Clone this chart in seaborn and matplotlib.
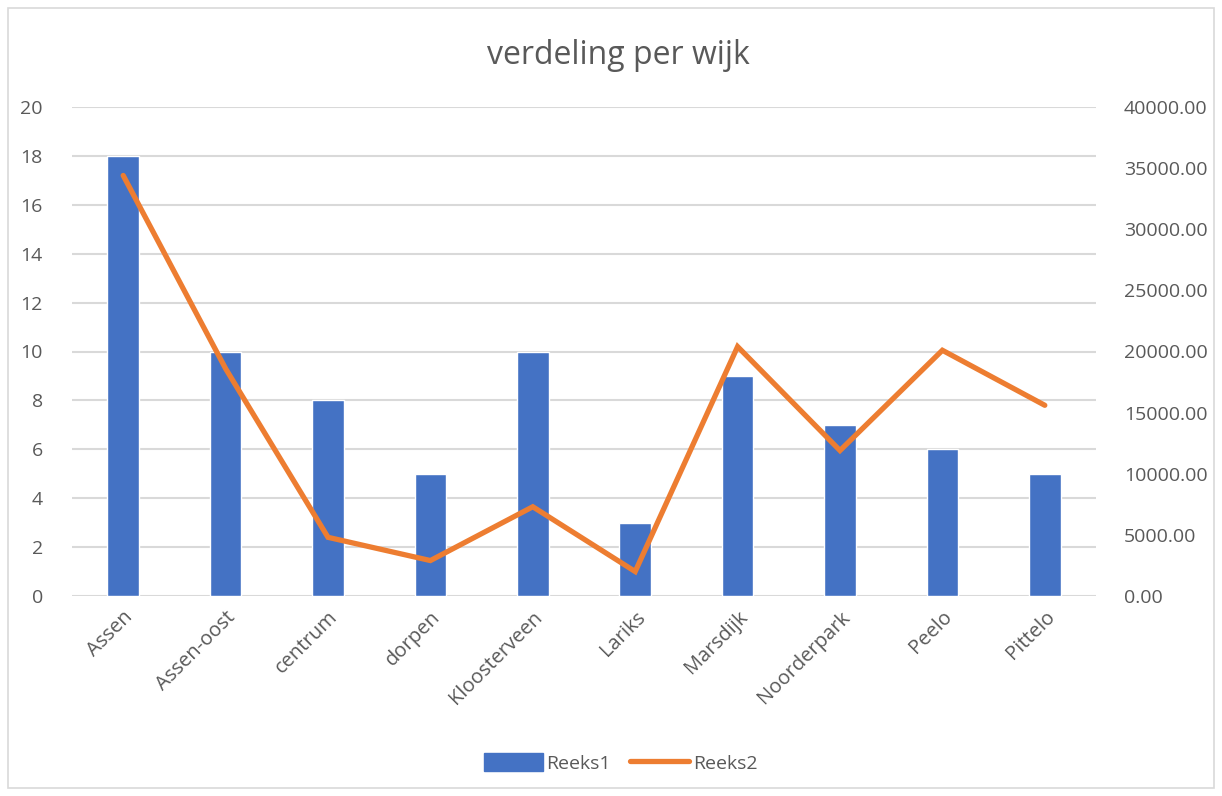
import matplotlib
matplotlib.use("Agg")
import matplotlib.pyplot as plt
import seaborn as sns
import numpy as np
import pandas as pd
from matplotlib.patches import Rectangle
from matplotlib.lines import Line2D
from matplotlib.patches import Patch

categories = ["Assen", "Assen-oost", "centrum", "dorpen", "Kloosterveen",
              "Lariks", "Marsdijk", "Noorderpark", "Peelo", "Pittelo"]
reeks1 = [18, 10, 8, 5, 10, 3, 9, 7, 6, 5]
reeks2 = [34400, 18600, 4800, 2900, 7300, 2000, 20400, 11900, 20100, 15600]
left_ticks = list(range(0, 21, 2))
right_ticks = list(range(0, 40001, 5000))

sns.set_theme(style="white")
plt.rcParams['font.family'] = ['Open Sans', 'DejaVu Sans']

BLUE = "#4472C4"
ORANGE = "#ED7D31"
GREY = "#595959"
GRID = "#D9D9D9"

df = pd.DataFrame({"wijk": categories, "Reeks1": reeks1, "Reeks2": reeks2})
df["pos"] = np.arange(len(categories))

fig = plt.figure(figsize=(12.22, 7.96), dpi=100)
fig.patch.set_facecolor("white")
fig.add_artist(Rectangle((8/1222, 8/796), 1 - 16/1222, 1 - 16/796,
                         transform=fig.transFigure, fill=False,
                         edgecolor="#D9D9D9", linewidth=1.2))

ax = fig.add_axes([72/1222, 1 - 596/796, (1096 - 72)/1222, (596 - 107)/796])
sns.barplot(data=df, x="wijk", y="Reeks1", color=BLUE, width=0.31,
            saturation=1, ax=ax, zorder=2)
ax.set_ylim(0, 20)
ax.set_xlim(-0.5, len(categories) - 0.5)
ax.set_yticks(left_ticks)
ax.yaxis.grid(True, color=GRID, linewidth=1.5, zorder=0)
ax.set_axisbelow(True)
for s in ax.spines.values():
    s.set_visible(False)
ax.set_xlabel("")
ax.set_ylabel("")
ax.tick_params(axis="y", colors=GREY, labelsize=14, length=0, pad=21)
ax.tick_params(axis="x", colors=GREY, labelsize=14.5, length=0, pad=8)
ax.set_xticks(range(len(categories)))
ax.set_xticklabels(categories, rotation=45, ha="right", rotation_mode="anchor")

ax2 = ax.twinx()
sns.lineplot(data=df, x="pos", y="Reeks2", color=ORANGE, linewidth=3.8,
             ax=ax2, zorder=3, solid_capstyle="round", solid_joinstyle="miter")
ax2.set_ylim(0, 40000)
ax2.set_yticks(right_ticks)
ax2.set_yticklabels([f"{v:.2f}" for v in right_ticks])
ax2.tick_params(axis="y", colors=GREY, labelsize=14, length=0, pad=20)
for s in ax2.spines.values():
    s.set_visible(False)
ax2.set_xlabel("")
ax2.set_ylabel("")
ax2.set_xlim(-0.5, len(categories) - 0.5)

fig.text(0.506, 1 - 55/796, "verdeling per wijk", ha="center", va="center",
         fontsize=23, color=GREY)

handles = [Patch(facecolor=BLUE, edgecolor=BLUE),
           Line2D([0], [0], color=ORANGE, linewidth=3.8)]
fig.legend(handles, ["Reeks1", "Reeks2"], loc="center",
           bbox_to_anchor=(0.508, 1 - 763/796), ncol=2, frameon=False,
           fontsize=14, labelcolor=GREY, handlelength=3.0, handleheight=1.0,
           columnspacing=1.0, handletextpad=0.2)

fig.savefig("out.png", dpi=100)
